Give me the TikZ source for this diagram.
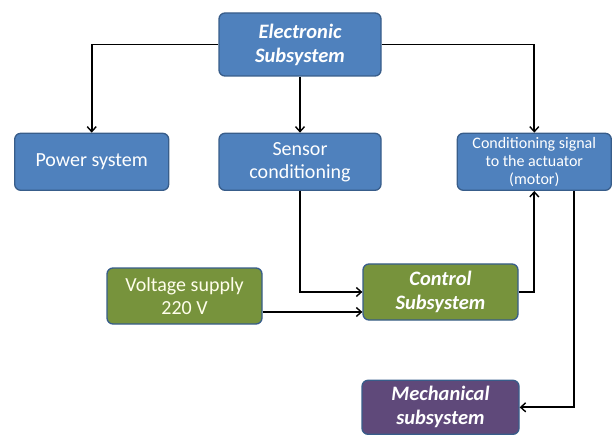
\documentclass[tikz,border=0pt]{standalone}
\usepackage{fontspec}
\setmainfont{Carlito}
\usepackage{xcolor}
\definecolor{boxblue}{HTML}{4F81BD}
\definecolor{boxgreen}{HTML}{77933C}
\definecolor{boxpurple}{HTML}{5F497A}
\definecolor{boxline}{HTML}{385D8A}
\usetikzlibrary{arrows.meta,positioning}

\begin{document}
\begin{tikzpicture}[x=1pt,y=1pt,
  blk/.style={draw=boxline,line width=1.3pt,rounded corners=6pt,align=center,text=white,inner sep=2pt,font=\fontsize{20}{23}\selectfont},
  bi/.style={font=\fontsize{20.5}{24}\selectfont\bfseries\itshape},
  arr/.style={-{Straight Barb[length=5pt,width=9pt,line width=1.4pt]},line width=1.8pt}]
\useasboundingbox (0,0) rectangle (612,-435);
\node[blk,bi,fill=boxblue,minimum width=162pt,minimum height=63pt] (elec) at (300,-44.5) {Electronic\\Subsystem};
\node[blk,fill=boxblue,minimum width=162pt,minimum height=57pt,below=56pt of elec] (sens) {Sensor\\conditioning};
\node[blk,fill=boxblue,minimum width=154pt,minimum height=57pt,left=49pt of sens] (power) {Power system};
\node[blk,fill=boxblue,minimum width=154pt,minimum height=57pt,right=75pt of sens,font=\fontsize{16}{18}\selectfont] (cond) {Conditioning signal\\to the actuator\\(motor)};
\node[blk,bi,fill=boxgreen,minimum width=155pt,minimum height=56pt] (ctrl) at (440.5,-292) {Control\\Subsystem};
\node[blk,fill=boxgreen,minimum width=155pt,minimum height=56pt,text=yellow!8] (volt) at (184.5,-296) {Voltage supply\\220 V};
\node[blk,bi,fill=boxpurple,minimum width=157pt,minimum height=54pt,below=59pt of ctrl] (mech) {Mechanical\\subsystem};
\draw[arr] (elec.west) -| (power.north);
\draw[arr] (elec) -- (sens);
\draw[arr] (elec.east) -| (cond.north);
\draw[arr] (sens.south) |- (ctrl.west);
\draw[arr] ([yshift=-16pt]volt.east) -- ([yshift=-16pt]volt.east -| ctrl.west);
\draw[arr] (ctrl.east) -| (cond.south);
\draw[arr] ([xshift=40pt]cond.south) |- (mech.east);
\end{tikzpicture}
\end{document}
